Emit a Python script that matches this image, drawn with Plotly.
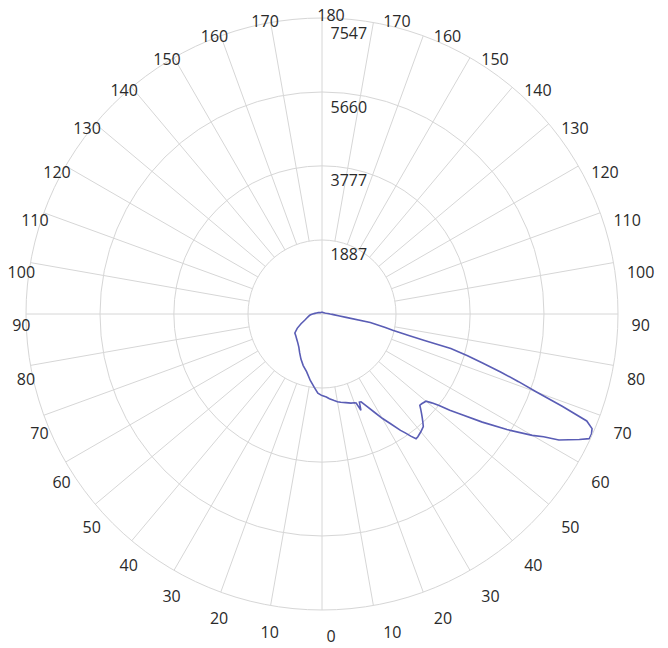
import plotly.graph_objects as go

# right half of the diagram (C0 plane): gamma angle -> intensity
right_deg = [0, 3, 5, 8, 10, 12, 15, 18, 20, 21, 22, 23, 24, 26, 28, 30, 32, 34, 35, 36,
             37, 38, 40, 42, 43, 44, 45, 46, 47, 48, 50, 51, 52, 53, 54, 56, 58, 60, 61,
             62, 63, 64, 65, 66, 67, 68, 69, 70, 71, 72, 73, 74, 75, 75.5, 76, 77, 78,
             80, 82, 84, 86, 88, 90, 95, 100, 110, 120, 130, 140, 150, 160, 170, 180]
right_cd = [2080, 2120, 2170, 2230, 2270, 2300, 2340, 2390, 2410, 2430, 2650, 2440, 2450,
            2630, 2830, 3070, 3300, 3580, 3700, 3850, 3985, 3970, 3920, 3860, 3770, 3680,
            3590, 3500, 3410, 3420, 3460, 3600, 3790, 4080, 4330, 4930, 5560, 6190, 6460,
            6840, 7060, 7300, 7520, 7520, 7480, 7280, 6560, 5820, 5300, 4800, 4280, 3860,
            3400, 2700, 2300, 1850, 1650, 1250, 620, 420, 320, 260, 210, 150, 110, 75, 60,
            50, 45, 45, 45, 45, 45]

# left half of the diagram (C180 plane)
left_deg = [0, 3, 6, 10, 15, 20, 25, 30, 35, 40, 45, 50, 55, 60, 65, 70, 75, 80, 85, 90,
            95, 100, 110, 120, 130, 140, 150, 160, 170, 180]
left_cd = [2080, 2020, 1880, 1720, 1520, 1400, 1270, 1140, 1030, 960, 910, 870, 845, 730,
           590, 470, 400, 350, 306, 240, 180, 140, 100, 70, 55, 50, 45, 45, 45, 45]

ring_vals = [1887, 3777, 5660, 7547]
spoke_deg = list(range(0, 360, 10))
spoke_text = [str(a if a <= 180 else 360 - a) for a in spoke_deg]

grid = "#d6d6d6"
font = dict(family="Open Sans", size=16, color="#2a2a2a")

theta = right_deg + [360 - d for d in reversed(left_deg)]
r = right_cd + list(reversed(left_cd))

# spokes: main axes go through the centre, the others stop at the first ring
sp_t, sp_r = [], []
for a in spoke_deg:
    sp_t += [a, a, None]
    sp_r += [0 if a % 90 == 0 else ring_vals[0], ring_vals[-1], None]

fig = go.Figure()
fig.add_trace(go.Scatterpolar(theta=sp_t, r=sp_r, mode="lines",
                              line=dict(color=grid, width=1), hoverinfo="skip"))
fig.add_trace(go.Scatterpolar(theta=theta, r=r, mode="lines",
                              line=dict(color="#5a5db5", width=1.6)))
fig.add_trace(go.Scatterpolar(theta=[180] * len(ring_vals), r=ring_vals, mode="markers+text",
                              marker=dict(size=12, opacity=0),
                              text=[str(v) for v in ring_vals],
                              textposition="bottom right", textfont=font, hoverinfo="skip"))
# second polar only carries the angle labels (they sit a bit off-centre in the original)
fig.add_trace(go.Scatterpolar(theta=[0], r=[0], mode="markers", marker=dict(opacity=0),
                              hoverinfo="skip", subplot="polar2"))

W, H = 668, 648
cx0, cx1, cy0, cy1 = 26, 618, 18, 610
dx, dy, grow = 9, 11, 4

fig.update_layout(
    width=W, height=H,
    margin=dict(l=0, r=0, t=0, b=0),
    paper_bgcolor="white",
    showlegend=False,
    font=font,
    polar=dict(
        domain=dict(x=[cx0 / W, cx1 / W], y=[1 - cy1 / H, 1 - cy0 / H]),
        bgcolor="white",
        radialaxis=dict(range=[0, ring_vals[-1]], tickvals=ring_vals, showticklabels=False,
                        ticks="", showline=False, gridcolor=grid, gridwidth=1),
        angularaxis=dict(rotation=270, direction="counterclockwise", showgrid=False,
                         showticklabels=False, ticks="", showline=True, linecolor=grid,
                         linewidth=1),
    ),
    polar2=dict(
        domain=dict(x=[(cx0 + dx - grow) / W, (cx1 + dx + grow) / W],
                    y=[1 - (cy1 + dy + grow) / H, 1 - (cy0 + dy - grow) / H]),
        bgcolor="rgba(0,0,0,0)",
        radialaxis=dict(range=[0, ring_vals[-1]], visible=False),
        angularaxis=dict(rotation=270, direction="counterclockwise", showgrid=False,
                         showline=False, ticks="", tickmode="array", tickvals=spoke_deg,
                         ticktext=spoke_text, tickfont=font),
    ),
)

# drop the page's default body margin so the figure fills the window
fig.write_html("out.html", config={"displayModeBar": False},
               post_script="document.body.style.margin = '0';")
